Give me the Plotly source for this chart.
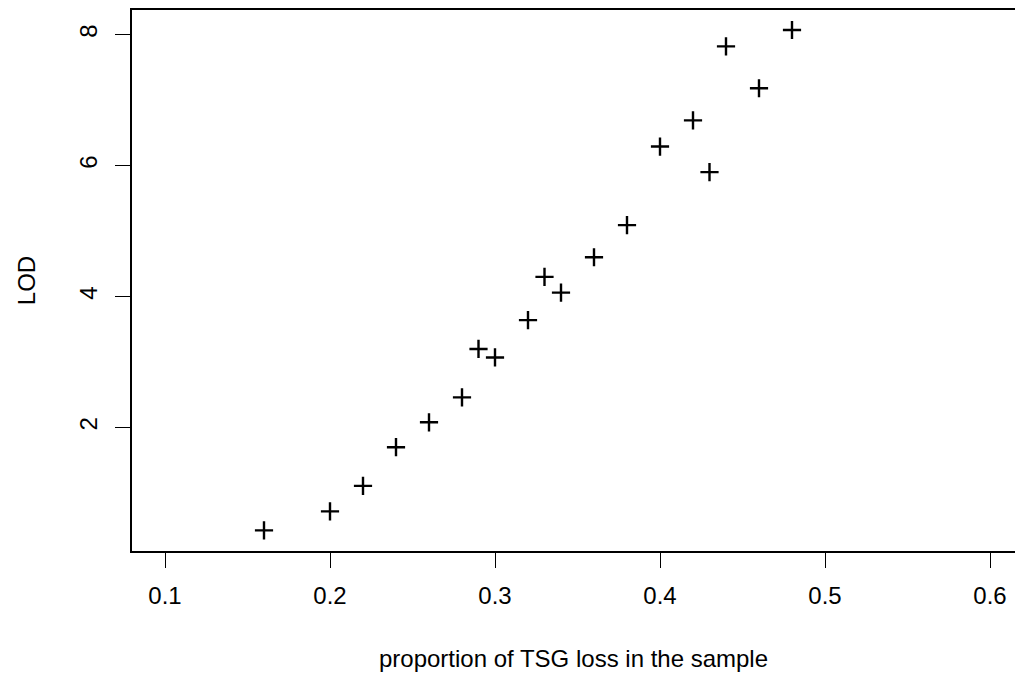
import plotly.graph_objects as go

proportion = [0.16, 0.20, 0.22, 0.24, 0.26, 0.28, 0.29, 0.30, 0.32, 0.33, 0.34,
              0.36, 0.38, 0.40, 0.42, 0.43, 0.44, 0.46, 0.48]
lod = [0.43, 0.72, 1.11, 1.70, 2.08, 2.46, 3.20, 3.07, 3.64, 4.30, 4.06,
       4.60, 5.09, 6.29, 6.69, 5.90, 7.82, 7.18, 8.07]

x_ticks = [0.1, 0.2, 0.3, 0.4, 0.5, 0.6]
y_ticks = [2, 4, 6, 8]

font_family = "Liberation Sans, Arial, Helvetica, sans-serif"
FS = 24

W, H = 1015, 677
ML, MT, MB = 132, 10, 126

fig = go.Figure(go.Scatter(
    x=proportion, y=lod, mode="markers",
    marker=dict(symbol="cross-thin", size=13, color="black",
                line=dict(color="black", width=2.4)),
    showlegend=False, hoverinfo="skip",
))

fig.update_layout(
    width=W, height=H,
    margin=dict(l=ML, r=0, t=MT, b=MB, pad=0),
    paper_bgcolor="white", plot_bgcolor="white",
    font=dict(family=font_family, size=FS, color="black"),
)

fig.update_xaxes(
    range=[0.08, 0.08 + (W - ML) / 1650],
    tickvals=x_ticks, ticktext=[f"{v:g}" for v in x_ticks],
    tickfont=dict(size=FS),
    ticks="outside", ticklen=15, tickwidth=1, tickcolor="black",
    showline=True, linecolor="black", linewidth=1.5, mirror=True,
    showgrid=False, zeroline=False,
    title=dict(text="proportion of TSG loss in the sample", standoff=43,
               font=dict(size=FS)),
    ticklabelstandoff=7, automargin=False,
)
fig.update_yaxes(
    range=[0.115, 8.375],
    tickvals=y_ticks, ticktext=[str(v) for v in y_ticks],
    tickfont=dict(size=FS),
    ticks="outside", ticklen=15, tickwidth=1, tickcolor="black",
    showline=True, linecolor="black", linewidth=1.5, mirror=False,
    showgrid=False, zeroline=False, tickangle=-90,
    title=dict(text="LOD", standoff=32, font=dict(size=FS)),
    ticklabelstandoff=9, automargin=False,
)

fig.write_html(
    "out.html",
    config={"displayModeBar": False},
    post_script="document.body.style.margin='0';document.body.style.overflow='hidden';",
)
